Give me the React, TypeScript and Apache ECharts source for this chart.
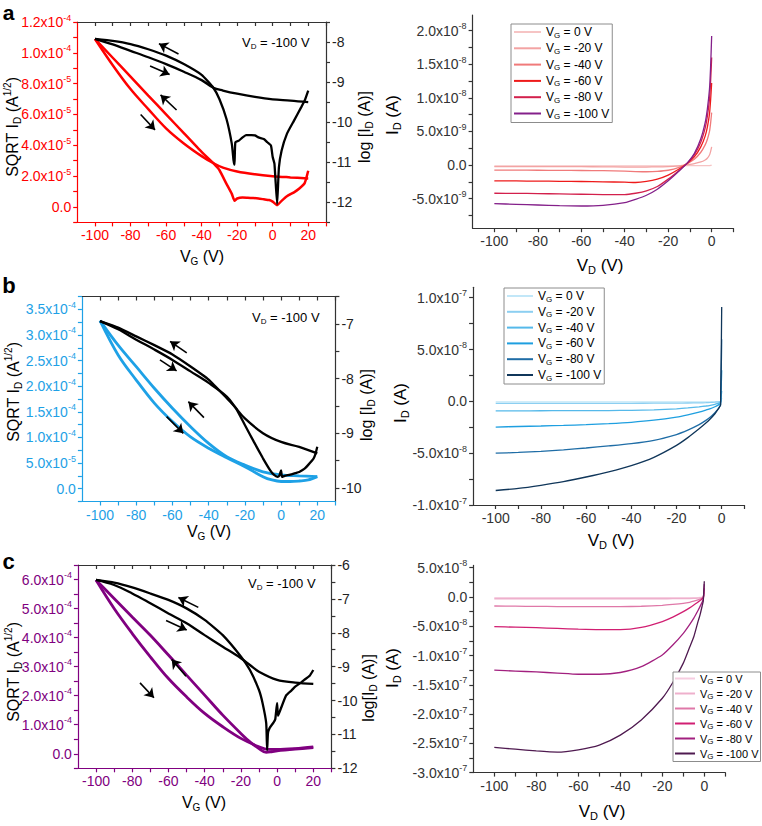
import React, { useEffect, useRef } from 'react';
import * as echarts from 'echarts';

const FONT = '"Liberation Sans", Arial, Helvetica, sans-serif';
const RED = '#ff0000';
const BLUE = '#1ea1e6';
const PURPLE = '#800080';
const DARK = '#333333';

// ---------------- Panel a : transfer (left) ----------------
const aSqrtUpper: [number, number][] = [
  [-100, 1.09e-4], [-90, 9.68e-5], [-80, 8.46e-5], [-70, 7.23e-5], [-60, 6.01e-5], [-50, 4.79e-5],
  [-40, 3.57e-5], [-33, 2.8e-5], [-30, 2.4e-5], [-26, 1.5e-5], [-23, 0.85e-5], [-21.5, 0.4e-5],
  [-20, 0.55e-5], [-17, 0.62e-5], [-14, 0.6e-5], [-11, 0.58e-5], [-8, 0.55e-5], [-5, 0.5e-5],
  [-2, 0.45e-5], [0, 0.35e-5], [2.5, 0.12e-5], [5, 0.4e-5], [8, 0.7e-5], [12, 0.95e-5],
  [15, 1.2e-5], [18, 1.55e-5], [20, 2.35e-5],
];
const aSqrtLower: [number, number][] = [
  [-100, 1.09e-4], [-90, 9.2e-5], [-80, 7.65e-5], [-70, 6.35e-5], [-60, 5.1e-5], [-50, 4.12e-5],
  [-40, 3.3e-5], [-33, 2.82e-5], [-28, 2.55e-5], [-20, 2.3e-5], [-10, 2.12e-5], [0, 2.0e-5],
  [10, 1.92e-5], [20, 1.85e-5],
];
const aLogUpper: [number, number][] = [
  [-100, -7.92], [-90, -7.97], [-80, -8.05], [-70, -8.18], [-60, -8.34], [-50, -8.55], [-40, -8.82],
  [-33.4, -9.14], [-30, -9.42], [-26, -9.92], [-23, -10.54], [-22, -10.96], [-21.5, -11.06],
  [-21, -10.5], [-19, -10.46], [-17, -10.38], [-15, -10.32], [-12, -10.32], [-10, -10.33],
  [-8, -10.38], [-5, -10.42], [-3, -10.5], [-1, -10.58], [0, -10.87], [1, -11.04], [2.5, -12.04],
  [3.5, -11.13], [5, -10.71], [8, -10.29], [12, -9.96], [16, -9.63], [18, -9.46], [20, -9.21],
];
const aLogLower: [number, number][] = [
  [-100, -7.92], [-90, -8.06], [-80, -8.22], [-70, -8.38], [-60, -8.55], [-50, -8.74], [-40, -8.95],
  [-33.4, -9.14], [-28, -9.21], [-20, -9.29], [-10, -9.37], [0, -9.43], [10, -9.46], [20, -9.5],
];

// ---------------- Panel a : output (right) ----------------
const aVD = [-100, -90, -80, -70, -60, -50, -40, -35, -30, -25, -20, -15, -11, -8, -5, -3, -2, -1, -0.5, 0];
const aOutVG0 = [-0.15e-9, -0.15e-9, -0.15e-9, -0.15e-9, -0.15e-9, -0.15e-9, -0.15e-9, -0.15e-9, -0.15e-9, -0.15e-9, -0.15e-9, -0.12e-9, -0.1e-9, -0.1e-9, -0.1e-9, -0.1e-9, -0.1e-9, -0.08e-9, -0.05e-9, 0];
const aOutVG20 = [-0.25e-9, -0.25e-9, -0.25e-9, -0.25e-9, -0.25e-9, -0.27e-9, -0.3e-9, -0.3e-9, -0.3e-9, -0.28e-9, -0.25e-9, -0.12e-9, 0.05e-9, 0.2e-9, 0.45e-9, 0.75e-9, 1.0e-9, 1.5e-9, 2.0e-9, 2.7e-9];
const aOutVG40 = [-0.75e-9, -0.76e-9, -0.78e-9, -0.8e-9, -0.82e-9, -0.85e-9, -0.92e-9, -0.97e-9, -1.0e-9, -0.95e-9, -0.78e-9, -0.35e-9, 0.25e-9, 0.85e-9, 1.9e-9, 3.0e-9, 3.8e-9, 5.0e-9, 6.2e-9, 7.8e-9];
const aOutVG60 = [-2.35e-9, -2.37e-9, -2.4e-9, -2.42e-9, -2.45e-9, -2.5e-9, -2.55e-9, -2.6e-9, -2.45e-9, -2.1e-9, -1.5e-9, -0.6e-9, 0.3e-9, 1.2e-9, 2.7e-9, 4.3e-9, 5.6e-9, 7.6e-9, 9.6e-9, 12.2e-9];
const aOutVG80 = [-4.2e-9, -4.22e-9, -4.25e-9, -4.3e-9, -4.35e-9, -4.4e-9, -4.4e-9, -4.2e-9, -3.85e-9, -3.2e-9, -2.1e-9, -0.8e-9, 0.35e-9, 1.5e-9, 3.4e-9, 5.5e-9, 7.2e-9, 9.8e-9, 12.3e-9, 16.0e-9];
const aOutVG100 = [-5.75e-9, -5.85e-9, -5.95e-9, -6.05e-9, -6.1e-9, -6.0e-9, -5.6e-9, -5.1e-9, -4.5e-9, -3.6e-9, -2.35e-9, -0.9e-9, 0.4e-9, 1.7e-9, 3.9e-9, 6.3e-9, 8.3e-9, 11.3e-9, 14.5e-9, 19.2e-9];

// ---------------- Panel b : transfer (left) ----------------
const bSqrtInner: [number, number][] = [
  [-100, 3.28e-4], [-90, 2.8e-4], [-80, 2.38e-4], [-70, 1.96e-4], [-60, 1.57e-4], [-50, 1.21e-4],
  [-40, 8.85e-5], [-30, 6.25e-5], [-20, 4.6e-5], [-10, 3.3e-5], [0, 2.7e-5], [10, 2.5e-5], [20, 2.35e-5],
];
const bSqrtOuter: [number, number][] = [
  [-100, 3.28e-4], [-90, 2.61e-4], [-80, 2.12e-4], [-70, 1.67e-4], [-60, 1.31e-4], [-50, 1.01e-4],
  [-40, 7.9e-5], [-30, 6.05e-5], [-20, 4.3e-5], [-10, 2.35e-5], [-5, 1.7e-5], [0, 1.4e-5],
  [5, 1.4e-5], [10, 1.5e-5], [15, 1.7e-5], [20, 2.35e-5],
];
const bLogUpper: [number, number][] = [
  [-100, -6.95], [-90, -7.07], [-80, -7.23], [-70, -7.39], [-60, -7.56], [-50, -7.78], [-40, -8.02],
  [-30, -8.36], [-25, -8.54], [-20, -8.85], [-15, -9.16], [-10, -9.46], [-6, -9.68], [-4, -9.76],
  [-2, -9.8], [-1, -9.78], [0, -9.68], [0.5, -9.8], [2, -9.78], [5, -9.76], [8, -9.73], [10, -9.71],
  [13, -9.65], [15, -9.58], [18, -9.46], [19, -9.38], [20, -9.25],
];
const bLogLower: [number, number][] = [
  [-100, -6.95], [-90, -7.1], [-80, -7.29], [-70, -7.47], [-60, -7.66], [-50, -7.87], [-40, -8.08],
  [-30, -8.33], [-25, -8.54], [-20, -8.73], [-10, -9.0], [0, -9.16], [10, -9.25], [20, -9.37],
];

// ---------------- Panel b : output (right) ----------------
const bVD = [-100, -90, -80, -70, -60, -50, -40, -30, -20, -15, -10, -7, -5, -3, -2, -1, -0.5, 0];
const bOutVG0 = [-0.06e-8, -0.06e-8, -0.06e-8, -0.06e-8, -0.06e-8, -0.06e-8, -0.06e-8, -0.06e-8, -0.06e-8, -0.06e-8, -0.06e-8, -0.06e-8, -0.06e-8, -0.06e-8, -0.05e-8, -0.04e-8, -0.02e-8, 0];
const bOutVG20 = [-0.19e-8, -0.19e-8, -0.19e-8, -0.19e-8, -0.19e-8, -0.19e-8, -0.19e-8, -0.18e-8, -0.17e-8, -0.16e-8, -0.15e-8, -0.13e-8, -0.11e-8, -0.08e-8, -0.06e-8, -0.03e-8, 0, 0.3e-8];
const bOutVG40 = [-0.93e-8, -0.92e-8, -0.91e-8, -0.9e-8, -0.9e-8, -0.89e-8, -0.87e-8, -0.82e-8, -0.72e-8, -0.64e-8, -0.53e-8, -0.45e-8, -0.38e-8, -0.29e-8, -0.23e-8, -0.15e-8, -0.08e-8, 1.0e-8];
const bOutVG60 = [-2.48e-8, -2.43e-8, -2.38e-8, -2.32e-8, -2.25e-8, -2.15e-8, -2.02e-8, -1.82e-8, -1.52e-8, -1.3e-8, -1.04e-8, -0.84e-8, -0.7e-8, -0.52e-8, -0.42e-8, -0.29e-8, -0.18e-8, 3.0e-8];
const bOutVG80 = [-5.0e-8, -4.93e-8, -4.83e-8, -4.68e-8, -4.5e-8, -4.3e-8, -4.08e-8, -3.76e-8, -3.2e-8, -2.78e-8, -2.25e-8, -1.84e-8, -1.52e-8, -1.1e-8, -0.85e-8, -0.55e-8, -0.35e-8, 6.0e-8];
const bOutVG100 = [-8.6e-8, -8.4e-8, -8.1e-8, -7.75e-8, -7.3e-8, -6.8e-8, -6.2e-8, -5.4e-8, -4.25e-8, -3.5e-8, -2.65e-8, -2.1e-8, -1.68e-8, -1.2e-8, -0.88e-8, -0.55e-8, -0.35e-8, 9.1e-8];

// ---------------- Panel c : transfer (left) ----------------
const cSqrtInner: [number, number][] = [
  [-100, 5.98e-4], [-90, 5.35e-4], [-80, 4.71e-4], [-70, 4.08e-4], [-60, 3.4e-4], [-50, 2.71e-4],
  [-40, 2.02e-4], [-30, 1.33e-4], [-20, 7.0e-5], [-15, 4.1e-5], [-10, 1.8e-5], [-6, 0.5e-5],
  [-3, 0.7e-5], [0, 1.0e-5], [10, 1.6e-5], [20, 2.1e-5],
];
const cSqrtOuter: [number, number][] = [
  [-100, 5.98e-4], [-90, 5.0e-4], [-80, 4.14e-4], [-70, 3.34e-4], [-60, 2.59e-4], [-50, 1.96e-4],
  [-40, 1.39e-4], [-30, 9.3e-5], [-20, 5.3e-5], [-10, 2.4e-5], [-5, 1.5e-5], [0, 1.5e-5],
  [10, 1.8e-5], [20, 2.4e-5],
];
const cLogUpper: [number, number][] = [
  [-100, -6.44], [-90, -6.52], [-80, -6.66], [-70, -6.84], [-60, -7.03], [-50, -7.28], [-40, -7.62],
  [-30, -8.07], [-20, -8.7], [-15, -9.1], [-10, -9.69], [-8, -10.08], [-6, -10.67], [-5.5, -11.46],
  [-5, -10.95], [-4, -10.8], [-2, -10.65], [-1, -10.55], [0, -10.08], [0.5, -10.45], [2, -10.25],
  [5, -9.85], [8, -9.7], [10, -9.59], [13, -9.48], [15, -9.39], [18, -9.27], [20, -9.1],
];
const cLogLower: [number, number][] = [
  [-100, -6.44], [-90, -6.59], [-80, -6.84], [-70, -7.13], [-60, -7.43], [-50, -7.72], [-40, -8.07],
  [-30, -8.41], [-20, -8.75], [-15, -8.95], [-10, -9.15], [0, -9.39], [10, -9.47], [20, -9.51],
];

// ---------------- Panel c : output (right) ----------------
const cVD = [-100, -90, -80, -70, -60, -50, -40, -30, -20, -15, -10, -7, -5, -3, -2, -1, -0.5, 0];
const cOutVG0 = [-0.11e-8, -0.11e-8, -0.11e-8, -0.11e-8, -0.11e-8, -0.11e-8, -0.11e-8, -0.11e-8, -0.11e-8, -0.11e-8, -0.11e-8, -0.11e-8, -0.1e-8, -0.1e-8, -0.08e-8, -0.05e-8, -0.02e-8, 0];
const cOutVG20 = [-0.3e-8, -0.3e-8, -0.3e-8, -0.3e-8, -0.3e-8, -0.3e-8, -0.3e-8, -0.3e-8, -0.3e-8, -0.29e-8, -0.28e-8, -0.27e-8, -0.25e-8, -0.2e-8, -0.15e-8, -0.08e-8, 0, 0.4e-8];
const cOutVG40 = [-1.54e-8, -1.57e-8, -1.6e-8, -1.63e-8, -1.65e-8, -1.66e-8, -1.65e-8, -1.58e-8, -1.42e-8, -1.27e-8, -1.08e-8, -0.9e-8, -0.72e-8, -0.48e-8, -0.34e-8, -0.18e-8, -0.08e-8, 0.8e-8];
const cOutVG60 = [-5.07e-8, -5.15e-8, -5.24e-8, -5.37e-8, -5.5e-8, -5.58e-8, -5.58e-8, -5.2e-8, -4.2e-8, -3.45e-8, -2.5e-8, -1.85e-8, -1.37e-8, -0.86e-8, -0.6e-8, -0.3e-8, -0.12e-8, 1.5e-8];
const cOutVG80 = [-12.5e-8, -12.65e-8, -12.8e-8, -13.0e-8, -13.2e-8, -13.2e-8, -12.9e-8, -11.9e-8, -9.9e-8, -8.2e-8, -6.2e-8, -4.7e-8, -3.6e-8, -2.3e-8, -1.6e-8, -0.85e-8, -0.4e-8, 2.2e-8];
const cOutVG100 = [-25.7e-8, -26.0e-8, -26.3e-8, -26.5e-8, -26.1e-8, -25.3e-8, -23.6e-8, -21.0e-8, -17.3e-8, -14.6e-8, -11.3e-8, -8.6e-8, -6.8e-8, -4.2e-8, -3.0e-8, -1.5e-8, -0.7e-8, 2.7e-8];

// ---------------- legends / colors ----------------
const VG_LIST = ['0', '-20', '-40', '-60', '-80', '-100'];
const aColors = ['#f6c4c4', '#f3a3a3', '#f07a7a', '#ee1a1a', '#d3204c', '#84208a'];
const bColors = ['#c2e7f8', '#8ccff1', '#55b9ea', '#1e9fe0', '#1f6da6', '#10365a'];
const cColors = ['#f6cde0', '#eeb0cc', '#df78a8', '#d11f72', '#a2207f', '#4f1a50'];

// ---------------- ticks ----------------
const LX_TICKS = [-100, -90, -80, -70, -60, -50, -40, -30, -20, -10, 0, 10, 20, 30];
const LX_LABELS = [-100, -80, -60, -40, -20, 0, 20];
const RX_TICKS = [-100, -90, -80, -70, -60, -50, -40, -30, -20, -10, 0, 10];
const RX_LABELS = [-100, -80, -60, -40, -20, 0];

const aLeftTicks = [-1e-5, 0, 1e-5, 2e-5, 3e-5, 4e-5, 5e-5, 6e-5, 7e-5, 8e-5, 9e-5, 1e-4, 1.1e-4, 1.2e-4];
const aLeftLabels = [0, 2e-5, 4e-5, 6e-5, 8e-5, 1e-4, 1.2e-4];
const aRightTicks = [-12.5, -12, -11.5, -11, -10.5, -10, -9.5, -9, -8.5, -8, -7.5];
const aRightLabels = [-12, -11, -10, -9, -8];
const aOutTicks = [-7.5e-9, -5e-9, -2.5e-9, 0, 2.5e-9, 5e-9, 7.5e-9, 1e-8, 1.25e-8, 1.5e-8, 1.75e-8, 2e-8];
const aOutLabels = [-5e-9, 0, 5e-9, 1e-8, 1.5e-8, 2e-8];

const bLeftTicks = [-2.5e-5, 0, 2.5e-5, 5e-5, 7.5e-5, 1e-4, 1.25e-4, 1.5e-4, 1.75e-4, 2e-4, 2.25e-4, 2.5e-4, 2.75e-4, 3e-4, 3.25e-4, 3.5e-4, 3.75e-4];
const bLeftLabels = [0, 5e-5, 1e-4, 1.5e-4, 2e-4, 2.5e-4, 3e-4, 3.5e-4];
const bRightTicks = [-10, -9.5, -9, -8.5, -8, -7.5, -7, -6.5];
const bRightLabels = [-10, -9, -8, -7];
const bOutTicks = [-1e-7, -7.5e-8, -5e-8, -2.5e-8, 0, 2.5e-8, 5e-8, 7.5e-8, 1e-7];
const bOutLabels = [-1e-7, -5e-8, 0, 5e-8, 1e-7];

const cLeftTicks = [-5e-5, 0, 5e-5, 1e-4, 1.5e-4, 2e-4, 2.5e-4, 3e-4, 3.5e-4, 4e-4, 4.5e-4, 5e-4, 5.5e-4, 6e-4, 6.5e-4];
const cLeftLabels = [0, 1e-4, 2e-4, 3e-4, 4e-4, 5e-4, 6e-4];
const cRightTicks = [-12, -11.5, -11, -10.5, -10, -9.5, -9, -8.5, -8, -7.5, -7, -6.5, -6];
const cRightLabels = [-12, -11, -10, -9, -8, -7, -6];
const cOutTicks = [-3e-7, -2.75e-7, -2.5e-7, -2.25e-7, -2e-7, -1.75e-7, -1.5e-7, -1.25e-7, -1e-7, -7.5e-8, -5e-8, -2.5e-8, 0, 2.5e-8, 5e-8];
const cOutLabels = [-3e-7, -2.5e-7, -2e-7, -1.5e-7, -1e-7, -5e-8, 0, 5e-8];

// ---------------- helpers ----------------
function sciLabel(v: number): string {
  if (Math.abs(v) < 1e-20) return '{n|0.0}';
  const exp = Math.floor(Math.log10(Math.abs(v)) + 1e-9);
  const mant = v / Math.pow(10, exp);
  return `{n|${mant.toFixed(1)}x10}{e|${exp}}`;
}
function sciRich(color: string) {
  return {
    n: { fontSize: 14, lineHeight: 18, color, fontFamily: FONT },
    e: { fontSize: 9, lineHeight: 8, verticalAlign: 'top', color, fontFamily: FONT },
  };
}

function xBottom(gridIndex: number, min: number, max: number, ticks: number[], labels: number[], color: string) {
  return {
    type: 'value', gridIndex, position: 'bottom', min, max,
    axisLine: { show: true, onZero: false, lineStyle: { color, width: 1.2 } },
    axisTick: { show: true, customValues: ticks, length: 4, lineStyle: { color, width: 1.2 } },
    axisLabel: { show: true, customValues: labels, color, fontSize: 14, fontFamily: FONT, margin: 6 },
    splitLine: { show: false },
  };
}
function xTop(gridIndex: number, min: number, max: number, ticks: number[]) {
  return {
    type: 'value', gridIndex, position: 'top', min, max,
    axisLine: { show: true, onZero: false, lineStyle: { color: DARK, width: 1.2 } },
    axisTick: { show: true, inside: true, customValues: ticks, length: 4, lineStyle: { color: DARK, width: 1.2 } },
    axisLabel: { show: false },
    splitLine: { show: false },
  };
}
function ySci(gridIndex: number, min: number, max: number, ticks: number[], labels: number[], color: string) {
  return {
    type: 'value', gridIndex, position: 'left', min, max,
    axisLine: { show: true, onZero: false, lineStyle: { color, width: 1.2 } },
    axisTick: { show: true, customValues: ticks, length: 4, lineStyle: { color, width: 1.2 } },
    axisLabel: { show: true, customValues: labels, formatter: sciLabel, rich: sciRich(color), margin: 6 },
    splitLine: { show: false },
  };
}
function yRight(gridIndex: number, min: number, max: number, ticks: number[], labels: number[]) {
  return {
    type: 'value', gridIndex, position: 'right', min, max,
    axisLine: { show: true, onZero: false, lineStyle: { color: DARK, width: 1.2 } },
    axisTick: { show: true, customValues: ticks, length: 4, lineStyle: { color: DARK, width: 1.2 } },
    axisLabel: { show: true, customValues: labels, color: '#222', fontSize: 14, fontFamily: FONT, margin: 6 },
    splitLine: { show: false },
  };
}

function arrows(pairs: [number, number][][]) {
  return {
    silent: true,
    symbol: ['none', 'arrow'],
    symbolSize: 9,
    label: { show: false },
    lineStyle: { color: '#000', width: 1.6, type: 'solid' },
    emphasis: { disabled: true },
    data: pairs.map(([p, q]) => [{ coord: p }, { coord: q }]),
  };
}

function line(name: string, data: any[], xAxisIndex: number, yAxisIndex: number, color: string, width: number, smooth: number | boolean, extra: any = {}) {
  return {
    type: 'line', name, data, xAxisIndex, yAxisIndex,
    showSymbol: false, symbol: 'none', smooth,
    lineStyle: { color, width }, itemStyle: { color },
    emphasis: { disabled: true }, silent: true,
    ...extra,
  };
}

function outputSeries(panel: string, vd: number[], curves: number[][], colors: string[], xi: number, yi: number) {
  return curves.map((c, k) =>
    line(`${panel}|${VG_LIST[k]}`, vd.map((v, i) => [v, c[i]]), xi, yi, colors[k], 1.3, 0.2)
  );
}

function legendFor(panel: string, left: number, top: number, iconW: number, fontSize: number, gap: number, pad: number[]) {
  return {
    orient: 'vertical', left, top,
    data: VG_LIST.map((v) => `${panel}|${v}`),
    icon: 'rect', itemWidth: iconW, itemHeight: 2, itemGap: gap,
    padding: pad, borderColor: '#8c8c8c', borderWidth: 1, backgroundColor: '#fff',
    selectedMode: false,
    formatter: (name: string) => `{n|V}{s|G}{n| = ${name.split('|')[1]} V}`,
    textStyle: {
      rich: {
        n: { fontSize, lineHeight: 14, color: '#000', fontFamily: FONT },
        s: { fontSize: 8, lineHeight: 6, verticalAlign: 'bottom', color: '#000', fontFamily: FONT },
      },
    },
  };
}

function titleRich(size: number) {
  const small = Math.round(size * 0.64);
  return {
    n: { fontSize: size, lineHeight: size + 4, fontFamily: FONT },
    s: { fontSize: small, lineHeight: 8, verticalAlign: 'bottom', fontFamily: FONT },
    e: { fontSize: small, lineHeight: 7, verticalAlign: 'top', fontFamily: FONT },
  };
}
function gText(text: string, x: number, y: number, size: number, rotation = 0, extra: any = {}) {
  return {
    type: 'text', x, y, rotation, silent: true, z: 50,
    style: {
      text, fill: '#000', fontSize: size, fontFamily: FONT,
      align: 'center', verticalAlign: 'middle', rich: titleRich(size), ...extra,
    },
  };
}

function buildOption() {
  const R = Math.PI / 2;
  const S = 0.35; // smoothing for clean branches
  const N = 0.15; // smoothing for noisy branches
  const letter = { fontWeight: 'bold' };
  return {
    animation: false,
    backgroundColor: '#ffffff',
    grid: [
      { left: 77.2, top: 22, width: 248.8, height: 200.4, outerBoundsMode: 'none' },
      { left: 472.6, top: 15.1, width: 260.8, height: 213.1, outerBoundsMode: 'none' },
      { left: 81.9, top: 296.5, width: 253.5, height: 205, outerBoundsMode: 'none' },
      { left: 473.1, top: 287.3, width: 271.2, height: 217.7, outerBoundsMode: 'none' },
      { left: 77.9, top: 565, width: 253.5, height: 203.3, outerBoundsMode: 'none' },
      { left: 473.3, top: 565.4, width: 252, height: 207.2, outerBoundsMode: 'none' },
    ],
    xAxis: [
      xBottom(0, -110, 30, LX_TICKS, LX_LABELS, RED),
      xBottom(1, -110, 10, RX_TICKS, RX_LABELS, DARK),
      xBottom(2, -110, 30, LX_TICKS, LX_LABELS, BLUE),
      xBottom(3, -110, 10, RX_TICKS, RX_LABELS, DARK),
      xBottom(4, -110, 30, LX_TICKS, LX_LABELS, PURPLE),
      xBottom(5, -110, 10, RX_TICKS, RX_LABELS, DARK),
      xTop(0, -110, 30, LX_TICKS),
      xTop(2, -110, 30, LX_TICKS),
      xTop(4, -110, 30, LX_TICKS),
    ],
    yAxis: [
      ySci(0, -1e-5, 1.2e-4, aLeftTicks, aLeftLabels, RED),
      ySci(1, -9.4e-9, 2.23e-8, aOutTicks, aOutLabels, DARK),
      ySci(2, -2.5e-5, 3.75e-4, bLeftTicks, bLeftLabels, BLUE),
      ySci(3, -1e-7, 1.1e-7, bOutTicks, bOutLabels, DARK),
      ySci(4, -5e-5, 6.5e-4, cLeftTicks, cLeftLabels, PURPLE),
      ySci(5, -3e-7, 5.4e-8, cOutTicks, cOutLabels, DARK),
      yRight(0, -12.5, -7.5, aRightTicks, aRightLabels),
      yRight(2, -10.25, -6.5, bRightTicks, bRightLabels),
      yRight(4, -12, -6, cRightTicks, cRightLabels),
    ],
    legend: [
      legendFor('a', 511, 24, 27, 12, 3.3, [2, 3, 2, 3]),
      legendFor('b', 504, 288, 26, 12, 2.8, [2, 3, 2, 3]),
      legendFor('c', 673, 672, 20, 11, 2.5, [1, 2, 1, 2]),
    ],
    series: [
      // panel a left
      line('aSqrtUpper', aSqrtUpper, 0, 0, RED, 2.5, N, {
        markLine: arrows([[[-54.1, 6.29e-5], [-63.1, 7.27e-5]], [[-74.3, 6.0e-5], [-66.2, 5.0e-5]]]),
      }),
      line('aSqrtLower', aSqrtLower, 0, 0, RED, 2.5, S),
      line('aLogUpper', aLogUpper, 0, 6, '#000', 2.3, N, {
        markLine: arrows([[[-53, -8.3], [-64, -8.04]], [[-69, -8.6], [-58, -8.81]]]),
      }),
      line('aLogLower', aLogLower, 0, 6, '#000', 2.3, S),
      // panel a right
      ...outputSeries('a', aVD, [aOutVG0, aOutVG20, aOutVG40, aOutVG60, aOutVG80, aOutVG100], aColors, 1, 1),
      // panel b left
      line('bSqrtInner', bSqrtInner, 2, 2, BLUE, 2.8, S, {
        markLine: arrows([[[-42.6, 1.386e-4], [-51.2, 1.698e-4]], [[-63.2, 1.405e-4], [-54.0, 1.08e-4]]]),
      }),
      line('bSqrtOuter', bSqrtOuter, 2, 2, BLUE, 2.8, S),
      line('bLogUpper', bLogUpper, 2, 7, '#000', 2.3, N, {
        markLine: arrows([[[-52.1, -7.53], [-61.3, -7.32]], [[-66.9, -7.66], [-57.7, -7.86]]]),
      }),
      line('bLogLower', bLogLower, 2, 7, '#000', 2.3, S),
      // panel b right
      ...outputSeries('b', bVD, [bOutVG0, bOutVG20, bOutVG40, bOutVG60, bOutVG80, bOutVG100], bColors, 3, 3),
      // panel c left
      line('cSqrtInner', cSqrtInner, 4, 4, PURPLE, 2.8, S, {
        markLine: arrows([[[-50.3, 2.67e-4], [-58.2, 3.25e-4]], [[-75.7, 2.44e-4], [-68.0, 1.93e-4]]]),
      }),
      line('cSqrtOuter', cSqrtOuter, 4, 4, PURPLE, 2.8, S),
      line('cLogUpper', cLogUpper, 4, 8, '#000', 2.3, N, {
        markLine: arrows([[[-43.5, -7.25], [-54.5, -6.96]], [[-61.3, -7.64], [-49.9, -7.92]]]),
      }),
      line('cLogLower', cLogLower, 4, 8, '#000', 2.3, S),
      // panel c right
      ...outputSeries('c', cVD, [cOutVG0, cOutVG20, cOutVG40, cOutVG60, cOutVG80, cOutVG100], cColors, 5, 5),
    ],
    graphic: [
      gText('a', 8.5, 12.5, 21, 0, letter),
      gText('b', 9, 285.5, 22, 0, letter),
      gText('c', 8.5, 561, 22, 0, letter),
      // panel a left
      gText('{n|SQRT I}{s|D}{n| (A}{e|1/2}{n|)}', 12, 127, 16, R),
      gText('{n|V}{s|G}{n| (V)}', 202, 256, 16),
      gText('{n|log [I}{s|D}{n| (A)]}', 364, 127, 16, R),
      gText('{n|V}{s|D}{n| = -100 V}', 242, 42, 13, 0, { align: 'left' }),
      // panel a right
      gText('{n|I}{s|D}{n| (A)}', 392, 115, 17, R),
      gText('{n|V}{s|D}{n| (V)}', 600, 265, 17),
      // panel b left
      gText('{n|SQRT I}{s|D}{n| (A}{e|1/2}{n|)}', 13, 392, 16, R),
      gText('{n|V}{s|G}{n| (V)}', 209, 531, 16),
      gText('{n|log [I}{s|D}{n| (A)]}', 366, 405, 16, R),
      gText('{n|V}{s|D}{n| = -100 V}', 252, 317, 13, 0, { align: 'left' }),
      // panel b right
      gText('{n|I}{s|D}{n| (A)}', 400, 403, 17, R),
      gText('{n|V}{s|D}{n| (V)}', 611, 540, 17),
      // panel c left
      gText('{n|SQRT I}{s|D}{n| (A}{e|1/2}{n|)}', 13, 672, 16, R),
      gText('{n|V}{s|G}{n| (V)}', 204, 802, 16),
      gText('{n|log[I}{s|D}{n| (A)]}', 368, 688, 16, R),
      gText('{n|V}{s|D}{n| = -100 V}', 248, 583, 13, 0, { align: 'left' }),
      // panel c right
      gText('{n|I}{s|D}{n| (A)}', 392, 668, 17, R),
      gText('{n|V}{s|D}{n| (V)}', 602, 811, 17),
    ],
  };
}

export default function App() {
  const ref = useRef<HTMLDivElement>(null);
  useEffect(() => {
    if (!ref.current) return;
    const chart = echarts.init(ref.current, undefined, { renderer: 'svg' });
    chart.setOption(buildOption() as any);
    return () => chart.dispose();
  }, []);
  return (
    <div
      ref={ref}
      style={{ position: 'absolute', left: 0, top: 0, width: 762, height: 826, background: '#fff' }}
    />
  );
}
